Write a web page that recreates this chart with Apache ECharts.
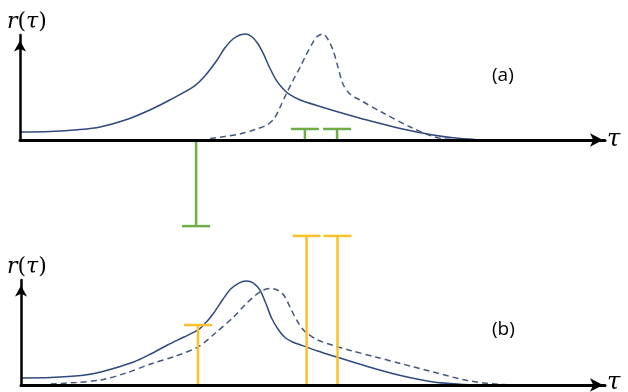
<!DOCTYPE html>
<html>
<head>
<meta charset="utf-8">
<script src="https://cdn.jsdelivr.net/npm/echarts@6/dist/echarts.min.js"></script>
<style>html,body{margin:0;padding:0;background:#fff}#c{width:628px;height:392px}</style>
</head>
<body>
<div id="c"></div>
<script>
// Panel (a): solid and dashed correlation curves r(tau)
var tauA_solid = [0, 5.1, 10.3, 13.7, 18.0, 22.2, 25.6, 29.6, 31.6, 33.7, 35.0, 36.4, 37.6, 38.6, 39.7, 40.7, 41.7, 42.7, 43.8, 45.0, 46.2, 47.9, 51.3, 54.7, 59.3, 65.0, 70.6, 74.4, 77.8];
var rA_solid   = [0.076, 0.081, 0.1, 0.124, 0.19, 0.286, 0.381, 0.505, 0.61, 0.762, 0.876, 0.962, 1.0, 1.01, 0.981, 0.914, 0.81, 0.686, 0.571, 0.486, 0.429, 0.381, 0.319, 0.262, 0.19, 0.11, 0.048, 0.019, 0.005];
var tauA_dash  = [32.5, 35.0, 37.6, 40.2, 42.2, 43.4, 44.4, 45.6, 46.8, 47.9, 48.9, 50.1, 50.9, 51.8, 52.6, 53.5, 54.4, 55.2, 56.4, 58.1, 62.1, 66.7, 70.6, 72.6, 74.4];
var rA_dash    = [0.014, 0.033, 0.057, 0.1, 0.143, 0.2, 0.305, 0.448, 0.581, 0.695, 0.81, 0.933, 0.99, 1.01, 0.962, 0.857, 0.686, 0.533, 0.438, 0.381, 0.257, 0.124, 0.033, 0.01, 0.005];
// Panel (b)
var tauB_solid = [0, 5.1, 10.3, 13.7, 19.3, 22.2, 25.1, 27.9, 30.3, 31.6, 33.0, 34.5, 35.9, 37.3, 38.6, 39.8, 40.9, 41.9, 42.9, 44.1, 45.3, 46.5, 47.9, 50.8, 53.5, 59.3, 65.0, 70.6, 75.2, 77.8];
var rB_solid   = [0.067, 0.071, 0.09, 0.124, 0.219, 0.295, 0.381, 0.457, 0.524, 0.59, 0.686, 0.81, 0.914, 0.971, 0.99, 0.971, 0.905, 0.781, 0.638, 0.524, 0.448, 0.41, 0.381, 0.324, 0.276, 0.176, 0.09, 0.029, 0.008, 0];
var tauB_dash  = [5.1, 9.4, 13.7, 18.0, 22.2, 26.5, 30.3, 33.3, 36.4, 38.5, 40.2, 41.5, 42.7, 43.9, 45.1, 46.3, 47.5, 48.7, 50.8, 53.5, 56.4, 60.7, 65.0, 70.6, 76.4, 82.1, 87.2];
var rB_dash    = [0.01, 0.024, 0.048, 0.114, 0.2, 0.276, 0.362, 0.495, 0.648, 0.771, 0.857, 0.905, 0.919, 0.905, 0.848, 0.714, 0.59, 0.505, 0.429, 0.376, 0.329, 0.267, 0.205, 0.124, 0.043, 0.005, 0];
// Stems
var greenTau  = [30.1, 48.7, 54.2];
var greenVal  = [-0.82, 0.105, 0.105];
var yellowTau = [30.3, 48.9, 54.2];
var yellowVal = [0.571, 1.42, 1.42];
// Labels
var xName = 'τ';
var panelLabels = ['(a)', '(b)'];

function zip(a, b) { return a.map(function (v, i) { return [v, b[i]]; }); }

var solidColor = '#2F4A7E';
var dashColor = '#44587C';
var green = '#70AD47';
var yellow = '#F9C12C';

function stemRender(color) {
  return function (params, api) {
    var base = api.coord([api.value(0), 0]);
    var tip = api.coord([api.value(0), api.value(1)]);
    var hw = 14;
    return {
      type: 'group',
      children: [
        { type: 'line', shape: { x1: base[0], y1: base[1], x2: tip[0], y2: tip[1] }, style: { stroke: color, lineWidth: 2.5 } },
        { type: 'line', shape: { x1: tip[0] - hw, y1: tip[1], x2: tip[0] + hw, y2: tip[1] }, style: { stroke: color, lineWidth: 2.5 } }
      ]
    };
  };
}

function xAxisDef(gi, w) {
  return {
    type: 'value', gridIndex: gi, min: 0, max: 100, z: 10,
    axisLine: { show: true, onZero: true, symbol: ['none', 'arrow'], symbolSize: [10, 13], symbolOffset: [0, -2], lineStyle: { color: '#000', width: w } },
    axisTick: { show: false }, axisLabel: { show: false }, splitLine: { show: false }
  };
}
function yAxisDef(gi) {
  return {
    type: 'value', gridIndex: gi, min: 0, max: 1, z: 10,
    axisLine: { show: true, symbol: ['none', 'arrow'], symbolSize: [9, 11], symbolOffset: [0, -5.5], lineStyle: { color: '#000', width: 2.5 } },
    axisTick: { show: false }, axisLabel: { show: false }, splitLine: { show: false }
  };
}

var mathFont = '"DejaVu Serif", serif';
function rLabel(top) {
  return {
    type: 'text', left: 7, top: top, z: 20,
    style: {
      text: '{i|r}{n|(}{i|τ}{n|)}',
      rich: {
        i: { fontFamily: mathFont, fontStyle: 'italic', fontSize: 22, fill: '#000' },
        n: { fontFamily: mathFont, fontSize: 22, fill: '#000' }
      }
    }
  };
}
function tLabel(top) {
  return { type: 'text', left: 607, top: top, z: 20, style: { text: xName, font: 'italic 24px "DejaVu Serif", serif', fill: '#000' } };
}
function pLabel(txt, top) {
  return { type: 'text', left: 492, top: top, z: 20, style: { text: txt, font: '19px "Open Sans", sans-serif', fill: '#000' } };
}

var chart = echarts.init(document.getElementById('c'), null, { renderer: 'canvas' });
chart.setOption({
  animation: false,
  backgroundColor: '#fff',
  grid: [
    { left: 20, right: 23, top: 35, bottom: 252 },
    { left: 21, right: 23, top: 280, bottom: 7 }
  ],
  xAxis: [xAxisDef(0, 3), xAxisDef(1, 3)],
  yAxis: [yAxisDef(0), yAxisDef(1)],
  series: [
    { type: 'line', xAxisIndex: 0, yAxisIndex: 0, data: zip(tauA_solid, rA_solid), smooth: 0.3, symbol: 'none', clip: false, lineStyle: { color: solidColor, width: 1.5 } },
    { type: 'line', xAxisIndex: 0, yAxisIndex: 0, data: zip(tauA_dash, rA_dash), smooth: 0.3, symbol: 'none', clip: false, lineStyle: { color: dashColor, width: 1.5, type: [6, 4] } },
    { type: 'custom', xAxisIndex: 0, yAxisIndex: 0, data: zip(greenTau, greenVal), renderItem: stemRender(green), clip: false, z: 5 },
    { type: 'line', xAxisIndex: 1, yAxisIndex: 1, data: zip(tauB_solid, rB_solid), smooth: 0.3, symbol: 'none', clip: false, lineStyle: { color: solidColor, width: 1.5 } },
    { type: 'line', xAxisIndex: 1, yAxisIndex: 1, data: zip(tauB_dash, rB_dash), smooth: 0.3, symbol: 'none', clip: false, lineStyle: { color: dashColor, width: 1.5, type: [6, 4] } },
    { type: 'custom', xAxisIndex: 1, yAxisIndex: 1, data: zip(yellowTau, yellowVal), renderItem: stemRender(yellow), clip: false, z: 5 }
  ],
  graphic: [rLabel(11), rLabel(256), tLabel(128), tLabel(371), pLabel(panelLabels[0], 66), pLabel(panelLabels[1], 320)]
});
</script>
</body>
</html>
